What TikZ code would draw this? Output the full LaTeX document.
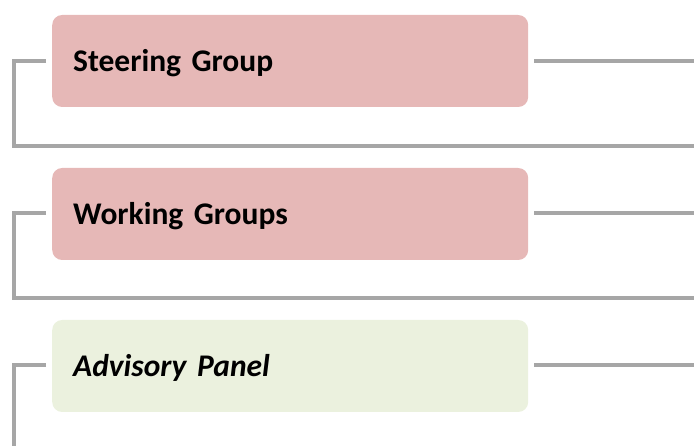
\documentclass[tikz,border=0pt]{standalone}
\usepackage{fontspec}
\setmainfont[WordSpace=0.6]{Carlito}
\usetikzlibrary{positioning}

\definecolor{boxred}{HTML}{E6B8B7}
\definecolor{boxgreen}{HTML}{EBF1DE}
\definecolor{linegray}{HTML}{A6A6A6}

\tikzset{
    groupbox/.style={anchor=west, rounded corners=10pt, minimum width=476pt,
        minimum height=92pt, text width=434pt, inner xsep=21pt, align=left,
        text depth=1pt, font=\fontsize{31.5}{35}\selectfont\bfseries},
    link/.style={draw=linegray, line width=4pt, line join=miter}
}

\begin{document}
\begin{tikzpicture}[x=1pt,y=-1pt]
    \useasboundingbox (0,0) rectangle (694,446);

    \node[groupbox, fill=boxred] (SG) at (52,61) {Steering Group};
    \node[groupbox, fill=boxred] (WG) at (52,214) {Working Groups};
    \node[groupbox, fill=boxgreen] (AP) at (52,366) {\itshape Advisory Panel};

    \coordinate (SGl) at (46,61);
    \coordinate (SGr) at (534,61);
    \coordinate (SGe) at (694,61);
    \coordinate (SGb) at (694,146);
    \coordinate (WGl) at (46,213);
    \coordinate (WGr) at (534,213);
    \coordinate (WGe) at (694,213);
    \coordinate (WGb) at (694,298);
    \coordinate (APl) at (46,365);
    \coordinate (APr) at (534,365);
    \coordinate (APe) at (694,365);
    \coordinate (APb) at (14,446);

    \draw[link] (SGl) -- (14,61) |- (SGb);
    \draw[link] (SGr) -- (SGe);
    \draw[link] (WGl) -- (14,213) |- (WGb);
    \draw[link] (WGr) -- (WGe);
    \draw[link] (APl) -| (APb);
    \draw[link] (APr) -- (APe);
\end{tikzpicture}
\end{document}
